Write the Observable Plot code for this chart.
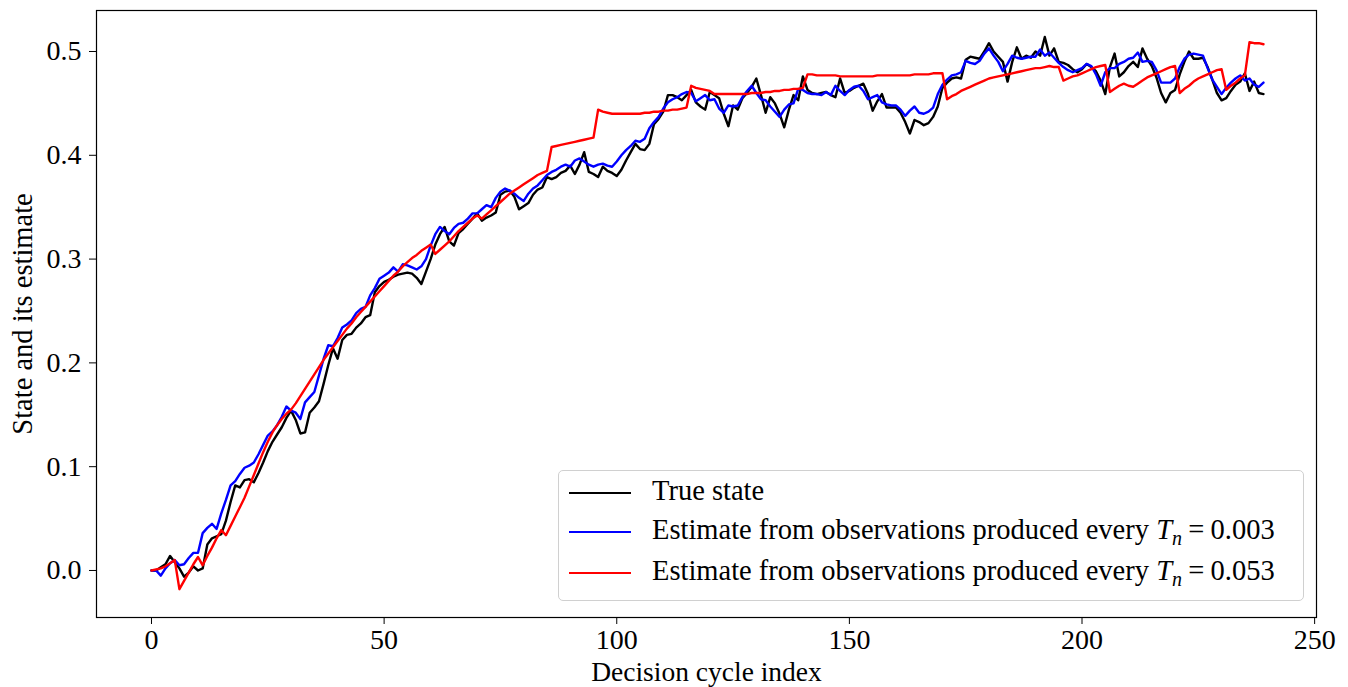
<!DOCTYPE html>
<html>
<head>
<meta charset="utf-8">
<script src="https://cdn.jsdelivr.net/npm/d3@7"></script>
<script src="https://cdn.jsdelivr.net/npm/@observablehq/plot@0.6"></script>
<style>
  html, body { margin: 0; padding: 0; background: #fff; }
  #wrap { position: relative; width: 1348px; height: 687px; font-family: "Liberation Serif", "Times New Roman", serif; }
  #legend { position: absolute; left: 558px; top: 470px; width: 746px; height: 131px; box-sizing: border-box;
    border: 1.5px solid #d0d0d0; border-radius: 5px; background: rgba(255,255,255,0.85); font-size: 28.5px; color: #000; }
  .entry { position: absolute; left: 0; height: 40px; white-space: nowrap; }
  .entry .sw { position: absolute; left: 10px; width: 62px; height: 0; border-top: 2.5px solid; }
  .entry .lab { position: absolute; left: 93px; line-height: 1; }
  .entry i { font-style: italic; }
  .entry sub { font-size: 0.7em; vertical-align: -0.3em; line-height: 0; }
  .entry .eq { padding: 0 0.22em; }
</style>
</head>
<body>
<div id="wrap"></div>
<script>
const xTicks = [0, 50, 100, 150, 200, 250];
const yTicks = [0.0, 0.1, 0.2, 0.3, 0.4, 0.5];
const seriesNames = ["True state", "Estimate from observations produced every T_n = 0.003", "Estimate from observations produced every T_n = 0.053"];
const seriesColors = ["black", "#0000ff", "#ff0000"];

const trueState = [
0.000,0.000,0.003,0.006,0.014,0.008,0.002,-0.006,-0.002,0.004,
0.000,0.002,0.025,0.031,0.033,0.035,0.048,0.066,0.082,0.080,
0.087,0.088,0.085,0.094,0.104,0.115,0.124,0.131,0.138,0.147,
0.154,0.145,0.132,0.133,0.152,0.157,0.163,0.180,0.198,0.214,
0.204,0.222,0.227,0.228,0.234,0.238,0.244,0.246,0.268,0.274,
0.278,0.280,0.283,0.285,0.286,0.287,0.286,0.282,0.276,0.288,
0.300,0.314,0.324,0.331,0.317,0.313,0.325,0.329,0.334,0.339,
0.344,0.337,0.340,0.342,0.345,0.362,0.365,0.366,0.360,0.348,
0.351,0.354,0.362,0.367,0.369,0.379,0.377,0.379,0.383,0.385,
0.390,0.382,0.391,0.403,0.384,0.382,0.379,0.389,0.385,0.383,
0.380,0.386,0.395,0.403,0.411,0.406,0.405,0.411,0.430,0.435,
0.442,0.458,0.458,0.456,0.453,0.458,0.463,0.451,0.447,0.444,
0.461,0.458,0.455,0.440,0.428,0.448,0.444,0.455,0.460,0.466,
0.474,0.458,0.441,0.456,0.450,0.440,0.427,0.444,0.458,0.453,
0.476,0.463,0.460,0.459,0.460,0.461,0.458,0.456,0.474,0.460,
0.462,0.465,0.467,0.469,0.459,0.443,0.452,0.459,0.446,0.446,
0.446,0.441,0.432,0.421,0.434,0.432,0.429,0.431,0.437,0.447,
0.465,0.470,0.474,0.475,0.474,0.492,0.495,0.494,0.493,0.500,
0.508,0.500,0.495,0.490,0.471,0.490,0.504,0.493,0.496,0.494,
0.500,0.496,0.514,0.496,0.503,0.490,0.489,0.487,0.483,0.480,
0.483,0.488,0.485,0.481,0.472,0.459,0.485,0.498,0.476,0.480,
0.486,0.490,0.485,0.503,0.493,0.486,0.475,0.460,0.451,0.460,
0.463,0.478,0.490,0.500,0.493,0.493,0.494,0.485,0.473,0.460,
0.453,0.455,0.462,0.468,0.471,0.479,0.462,0.471,0.460,0.459
];

const estimateFast = [
0.000,0.000,-0.005,0.002,0.007,0.010,0.005,0.006,0.012,0.017,
0.017,0.036,0.041,0.045,0.040,0.055,0.068,0.082,0.086,0.093,
0.099,0.101,0.104,0.112,0.121,0.130,0.134,0.140,0.148,0.158,
0.154,0.152,0.146,0.162,0.167,0.172,0.188,0.204,0.217,0.216,
0.224,0.234,0.237,0.241,0.248,0.252,0.254,0.265,0.272,0.281,
0.284,0.287,0.292,0.288,0.295,0.294,0.292,0.290,0.293,0.300,
0.313,0.324,0.331,0.327,0.324,0.330,0.334,0.335,0.339,0.344,
0.344,0.348,0.352,0.350,0.359,0.365,0.368,0.366,0.363,0.359,
0.356,0.363,0.368,0.371,0.376,0.381,0.384,0.386,0.389,0.391,
0.389,0.395,0.397,0.394,0.391,0.389,0.391,0.392,0.390,0.389,
0.394,0.400,0.405,0.409,0.414,0.413,0.416,0.426,0.432,0.437,
0.445,0.451,0.454,0.456,0.459,0.461,0.460,0.452,0.455,0.458,
0.453,0.454,0.445,0.441,0.448,0.447,0.448,0.456,0.462,0.467,
0.460,0.454,0.453,0.447,0.442,0.437,0.444,0.449,0.450,0.464,
0.463,0.460,0.459,0.459,0.458,0.461,0.458,0.467,0.462,0.458,
0.463,0.466,0.467,0.462,0.454,0.456,0.458,0.451,0.449,0.448,
0.448,0.444,0.438,0.443,0.447,0.441,0.440,0.442,0.446,0.459,
0.468,0.473,0.477,0.478,0.480,0.491,0.489,0.488,0.491,0.498,
0.503,0.496,0.490,0.481,0.488,0.496,0.494,0.493,0.494,0.495,
0.495,0.502,0.496,0.499,0.494,0.489,0.485,0.482,0.480,0.482,
0.484,0.488,0.486,0.478,0.467,0.480,0.484,0.484,0.488,0.490,
0.493,0.494,0.499,0.490,0.491,0.490,0.482,0.470,0.470,0.470,
0.474,0.485,0.493,0.497,0.498,0.497,0.496,0.484,0.473,0.466,
0.459,0.465,0.470,0.474,0.477,0.472,0.474,0.468,0.466,0.470
];

const estimateSlow = [
0.000,0.001,0.002,0.004,0.007,0.010,-0.018,-0.010,-0.002,0.006,
0.013,0.005,0.014,0.022,0.031,0.039,0.034,0.043,0.052,0.061,
0.070,0.081,0.092,0.103,0.114,0.124,0.133,0.140,0.146,0.151,
0.155,0.161,0.168,0.175,0.182,0.189,0.196,0.203,0.209,0.215,
0.221,0.227,0.233,0.238,0.244,0.249,0.254,0.259,0.264,0.269,
0.274,0.279,0.284,0.288,0.293,0.297,0.301,0.304,0.308,0.311,
0.314,0.305,0.309,0.313,0.317,0.322,0.327,0.331,0.335,0.339,
0.342,0.339,0.343,0.347,0.351,0.355,0.359,0.363,0.366,0.369,
0.372,0.375,0.378,0.381,0.383,0.385,0.408,0.409,0.410,0.411,
0.412,0.413,0.414,0.415,0.416,0.417,0.444,0.442,0.441,0.440,
0.440,0.440,0.440,0.440,0.440,0.440,0.441,0.441,0.442,0.442,
0.443,0.443,0.444,0.444,0.445,0.446,0.467,0.465,0.464,0.463,
0.462,0.459,0.459,0.459,0.459,0.459,0.459,0.459,0.459,0.460,
0.460,0.460,0.461,0.461,0.462,0.462,0.463,0.463,0.464,0.464,
0.465,0.478,0.478,0.477,0.477,0.477,0.477,0.477,0.476,0.476,
0.476,0.476,0.476,0.476,0.476,0.476,0.477,0.477,0.477,0.477,
0.477,0.477,0.477,0.477,0.478,0.478,0.478,0.478,0.479,0.479,
0.479,0.454,0.457,0.459,0.462,0.464,0.466,0.468,0.470,0.472,
0.474,0.475,0.476,0.477,0.478,0.479,0.480,0.481,0.482,0.483,
0.484,0.484,0.485,0.486,0.485,0.485,0.472,0.474,0.476,0.477,
0.479,0.481,0.483,0.485,0.486,0.487,0.461,0.464,0.467,0.469,
0.467,0.466,0.469,0.472,0.475,0.477,0.479,0.481,0.483,0.485,
0.486,0.460,0.464,0.467,0.471,0.474,0.476,0.478,0.480,0.482,
0.483,0.463,0.467,0.470,0.474,0.477,0.509,0.508,0.508,0.507
];

const seriesValues = [trueState, estimateFast, estimateSlow];
const font = "Liberation Serif, Times New Roman, serif";

const lines = seriesValues.map((vals, k) =>
  Plot.lineY(vals, {x: (d, i) => i, y: d => d, stroke: seriesColors[k], strokeWidth: 2.4})
);

const chart = Plot.plot({
  width: 1348,
  height: 687,
  marginLeft: 96,
  marginRight: 32,
  marginTop: 10,
  marginBottom: 70,
  style: {fontFamily: font, fontSize: "28px", background: "white", color: "black"},
  x: {domain: [-11.82, 250.4]},
  y: {domain: [-0.0453, 0.5395]},
  marks: [
    ...lines,
    Plot.frame({stroke: "black", strokeWidth: 1.2}),
    Plot.axisX({ticks: xTicks, tickSize: 7, tickPadding: 5, fontSize: 28, label: null}),
    Plot.axisY({ticks: yTicks, tickSize: 7, tickPadding: 8, fontSize: 28, tickFormat: d3.format(".1f"), label: null}),
    Plot.text(["Decision cycle index"], {frameAnchor: "bottom", lineAnchor: "middle", dy: 55, fontSize: 27.5, textAnchor: "middle"}),
    Plot.text(["State and its estimate"], {frameAnchor: "left", dx: -74, rotate: -90, fontSize: 28.5, textAnchor: "middle"})
  ]
});

const wrap = document.getElementById("wrap");
wrap.appendChild(chart);

const legend = document.createElement("div");
legend.id = "legend";
const tops = [21, 60, 101];
seriesNames.forEach((name, k) => {
  const e = document.createElement("div");
  e.className = "entry";
  e.style.top = tops[k] + "px";
  const sw = document.createElement("div");
  sw.className = "sw";
  sw.style.borderTopColor = seriesColors[k];
  sw.style.top = "0px";
  const lab = document.createElement("div");
  lab.className = "lab";
  lab.style.top = "-15px";
  const m = name.match(/^(.*) T_n = (.*)$/);
  if (m) {
    lab.innerHTML = m[1] + " <i>T<sub>n</sub></i><span class=\"eq\">=</span>" + m[2];
  } else {
    lab.textContent = name;
  }
  e.appendChild(sw);
  e.appendChild(lab);
  legend.appendChild(e);
});
wrap.appendChild(legend);
</script>
</body>
</html>
